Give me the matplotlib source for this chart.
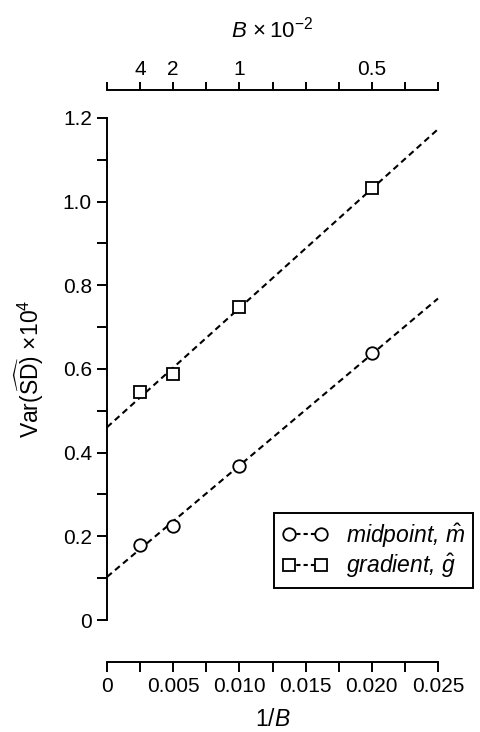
import numpy as np
import matplotlib
matplotlib.use('Agg')
import matplotlib.pyplot as plt

plt.rcParams['font.family'] = ['Liberation Sans', 'DejaVu Sans']
plt.rcParams['mathtext.fontset'] = 'custom'
plt.rcParams['mathtext.rm'] = 'Liberation Sans'
plt.rcParams['mathtext.it'] = 'Liberation Sans:italic'
plt.rcParams['font.size'] = 15

# данные
inv_B = [0.0025, 0.005, 0.010, 0.020]
midpoint = [0.18, 0.224, 0.369, 0.637]
gradient = [0.544, 0.588, 0.747, 1.032]

bottom_ticks = [0, 0.005, 0.010, 0.015, 0.020, 0.025]
bottom_labels = ['0', '0.005', '0.010', '0.015', '0.020', '0.025']
top_ticks = [0.0025, 0.005, 0.010, 0.020]
top_labels = ['4', '2', '1', '0.5']

fig = plt.figure(figsize=(4.8, 7.32), dpi=100)
ax = fig.add_axes([0.223, 0.153, 0.6895, 0.686])

xs = np.array([0, 0.025])
for y, mk, lab in [(midpoint, 'o', r'midpoint, $\hat{m}$'),
                   (gradient, 's', r'gradient, $\hat{g}$')]:
    k, b = np.polyfit(inv_B, y, 1)
    ax.plot(xs, k * xs + b, color='black', lw=1.5, dashes=(3, 2), clip_on=False)
    ax.plot(inv_B, y, mk, mfc='white', mec='black', mew=1.3, ms=9, zorder=3)
    ax.plot([], [], marker=mk, mfc='white', mec='black', mew=1.3, ms=9,
            color='black', lw=1.5, dashes=(2, 1.5), label=lab)

ax.set_xlim(0, 0.025)
ax.set_ylim(0, 1.2)

for s in ['top', 'right']:
    ax.spines[s].set_visible(False)
ax.spines['bottom'].set_position(('outward', 30))
for s in ['left', 'bottom']:
    ax.spines[s].set_linewidth(1.4)

ax.set_xticks(bottom_ticks, bottom_labels)
ax.set_xticks(np.arange(0.0025, 0.025, 0.005), minor=True)
ax.set_yticks(np.arange(0, 1.21, 0.2), ['0', '0.2', '0.4', '0.6', '0.8', '1.0', '1.2'])
ax.set_yticks(np.arange(0.1, 1.2, 0.2), minor=True)
ax.tick_params(which='both', direction='out', length=7, width=1.4, pad=4)

ax.set_xlabel(r'1/$B$', fontsize=16.5, labelpad=9)
ax.set_ylabel(r'Var($\widehat{\mathrm{SD}}$) $\times$10$^4$', fontsize=16.5, labelpad=12)

secax = ax.secondary_xaxis(1.056)
secax.set_xticks(top_ticks, top_labels)
secax.set_xticks(np.arange(0, 0.02501, 0.0025), minor=True)
secax.tick_params(which='both', direction='out', length=6, width=1.4, pad=2)
secax.spines['top'].set_linewidth(1.4)
secax.set_xlabel(r'$B\,\times$10$^{-2}$', fontsize=16, labelpad=16)

leg = ax.legend(loc='upper left', bbox_to_anchor=(0.571, 0.299),
                bbox_transform=fig.transFigure, borderaxespad=0,
                fancybox=False, framealpha=1, edgecolor='black',
                numpoints=2, handlelength=2.0, handletextpad=0.8,
                borderpad=0.35, labelspacing=0.1,
                prop={'style': 'italic', 'size': 16.5})
leg.get_frame().set_linewidth(1.4)

fig.savefig('out.png', dpi=100)
